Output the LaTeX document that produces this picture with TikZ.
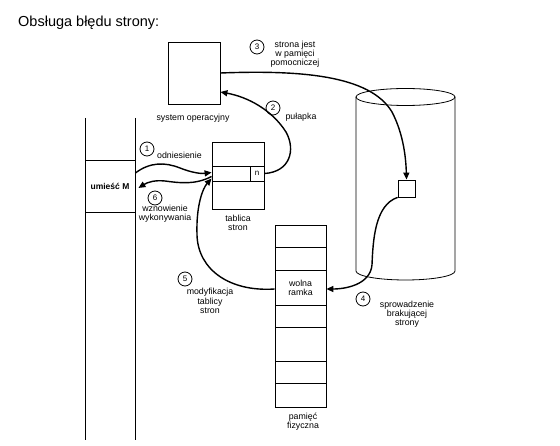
\documentclass[tikz,border=0pt]{standalone}
\usepackage{fontspec}
\setmainfont{Liberation Sans}
\usetikzlibrary{arrows.meta}
\begin{document}
\begin{tikzpicture}[x=1pt,y=-1pt,
  box/.style={draw,line width=0.8pt,inner sep=0pt,minimum width=#1},
  lbl/.style={font=\fontsize{8.8}{9.2}\selectfont,align=center,inner sep=0pt},
  num/.style={draw,circle,line width=0.8pt,minimum size=14pt,inner sep=0pt,font=\fontsize{8}{8}\selectfont},
  conn/.style={line width=1.4pt,-{Triangle[length=7pt,width=6pt]}},
  frm/.style={line width=0.8pt}]
\useasboundingbox (0,0) rectangle (560,446);
\node[anchor=base west,inner sep=0pt,font=\fontsize{14.5}{16}\selectfont] (title) at (18,27) {Obsługa błędu strony:};
% system operacyjny
\node[box=52pt,minimum height=62pt] (sysop) at (194,73) {};
\node[lbl] (sysoplbl) at (193,118) {system operacyjny};
% page table
\node[box=52pt,minimum height=67pt] (pt) at (238,175.5) {};
\node[box=52pt,minimum height=15pt] (ptentry) at (238,173.5) {};
\node[box=14pt,minimum height=15pt,font=\fontsize{8}{8}\selectfont] (ncell) at (257,173.5) {n};
\node[lbl] (ptlbl) at (238,222.5) {tablica\\stron};
% process column
\draw[frm] (85,118) -- (85,440) (135,118) -- (135,440);
\node[minimum width=50pt,minimum height=52pt,inner sep=0pt,draw,line width=0.8pt,font=\fontsize{8.5}{9}\selectfont\bfseries] (umiesc) at (110,186) {umieść M};
% physical memory
\draw[frm] (275,225) rectangle (326,407);
\foreach \yy in {247,327,361,383} \draw[frm] (275,\yy) -- (326,\yy);
\node[box=51pt,minimum height=35pt,lbl] (frame) at (300.5,287.5) {wolna\\ramka};
\node[lbl] (memlbl) at (303,422) {pamięć\\fizyczna};
% backing store cylinder
\draw[frm] (356,97) -- (356,271) arc[start angle=180,end angle=360,x radius=49.5pt,y radius=9pt] -- (455,97);
\draw[frm] (405.5,97) ellipse[x radius=49.5pt,y radius=8.5pt];
\node[box=17pt,minimum height=17pt] (blk) at (406.5,188.5) {};
% numbers and labels
\node[num] (c1) at (147,149) {1};
\node[lbl,anchor=west] (t1) at (157,155) {odniesienie};
\node[num] (c2) at (273,108) {2};
\node[lbl] (t2) at (301,117) {pułapka};
\node[num] (c3) at (257,47) {3};
\node[lbl] (t3) at (295,54) {strona jest\\w pamięci\\pomocniczej};
\node[num] (c4) at (363,299) {4};
\node[lbl] (t4) at (407,314) {sprowadzenie\\brakującej\\strony};
\node[num] (c5) at (185,279) {5};
\node[lbl] (t5) at (210,301) {modyfikacja\\tablicy\\stron};
\node[num] (c6) at (155,198) {6};
\node[lbl] (t6) at (165,213.5) {wznowienie\\wykonywania};
% connectors
\draw[conn] ([yshift=13pt]umiesc.east) .. controls (150,162) and (165,162) .. (180,168) .. controls (190,172) and (200,174) .. ([yshift=1pt]ptentry.west);
\draw[conn] ([yshift=-3pt]ptentry.west) .. controls (195,185) and (180,183) .. (165,181) .. controls (155,180) and (148,182) .. ([xshift=3pt,yshift=-2pt]umiesc.east);
\draw[conn] (ncell.east) .. controls (290,172) and (296,150) .. (286,132) .. controls (272,110) and (248,97) .. ([yshift=-19pt]sysop.east);
\draw[conn] (sysop.east) .. controls (300,70) and (370,75) .. (392,112) .. controls (404,135) and (406,160) .. (blk.north);
\draw[conn] (blk.south west) .. controls (375,205) and (373,240) .. (372,265) .. controls (370,285) and (345,289) .. ([yshift=-1.5pt]frame.east);
\draw[conn] ([yshift=-1.5pt]frame.west) .. controls (230,292) and (198,270) .. (197,235) .. controls (196,205) and (203,188) .. ([yshift=-5pt]ptentry.west);
\end{tikzpicture}
\end{document}
